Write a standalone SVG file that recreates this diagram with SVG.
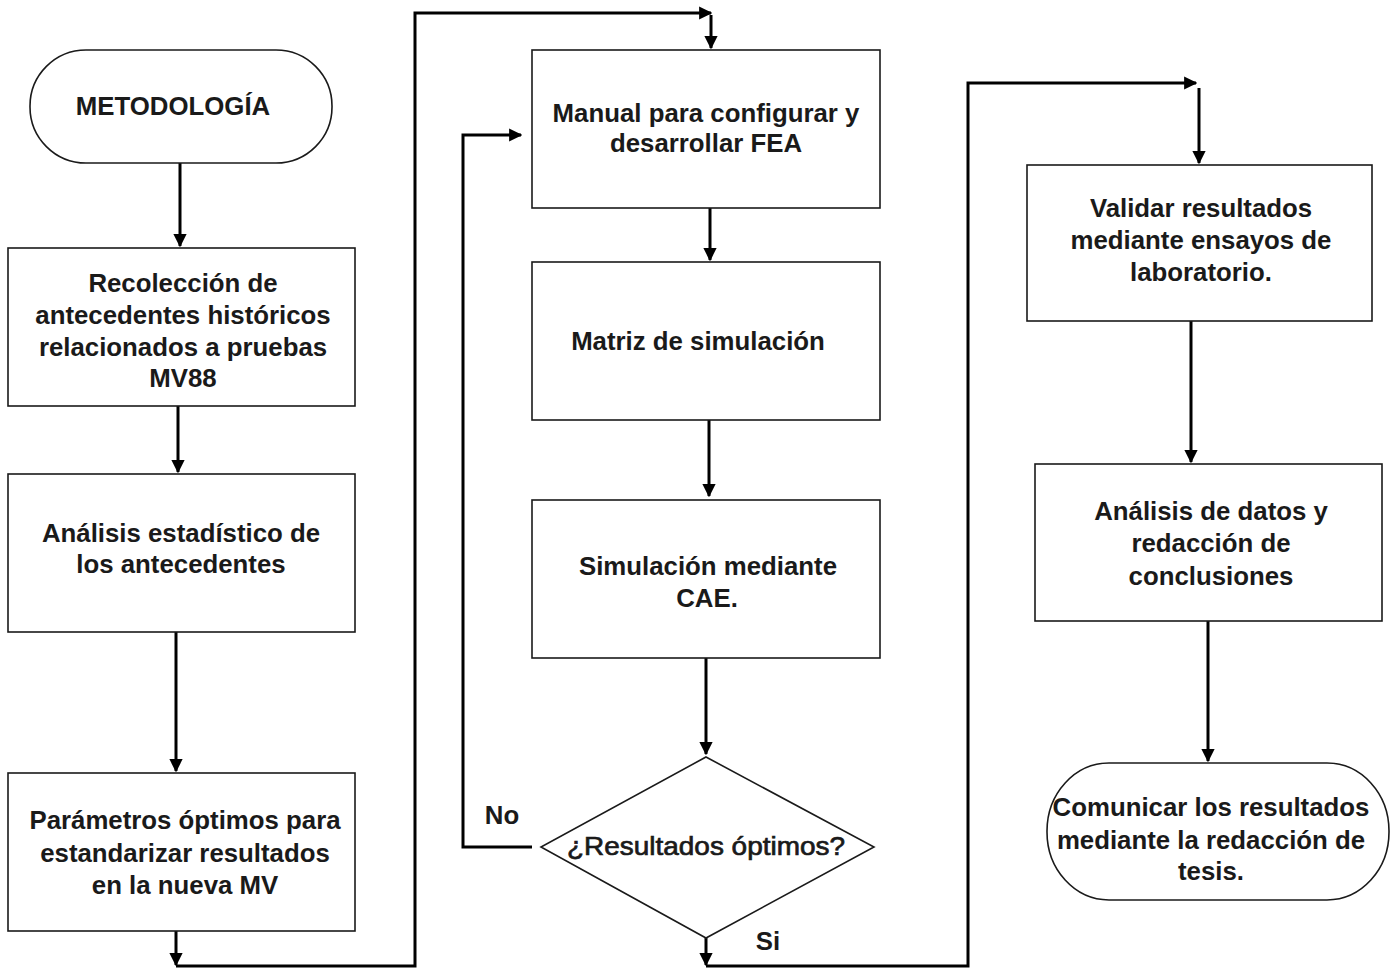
<svg xmlns="http://www.w3.org/2000/svg" width="1391" height="968" viewBox="0 0 1391 968">
<defs>
<marker id="ah" viewBox="0 0 10 10" refX="9" refY="5" markerWidth="4.4" markerHeight="4.4" markerUnits="strokeWidth" orient="auto">
<path d="M0,0 L10,5 L0,10 z" fill="#000"/>
</marker>
<style>
.n{fill:#fff;stroke:#1a1a1a;stroke-width:1.6}
.t{font-family:"Liberation Sans",Arial,sans-serif;font-size:25.8px;font-weight:bold;fill:#1a1a1a;text-anchor:middle}
.d{font-family:"Liberation Sans",Arial,sans-serif;font-size:26px;fill:#1a1a1a;stroke:#1a1a1a;stroke-width:0.7;text-anchor:middle}
.c{fill:none;stroke:#000;stroke-width:3}
</style>
</defs>
<rect width="1391" height="968" fill="#fff"/>
<g id="connectors">
<path class="c" d="M180,163 V246" marker-end="url(#ah)"/>
<path class="c" d="M178,406 V472" marker-end="url(#ah)"/>
<path class="c" d="M176,632 V771" marker-end="url(#ah)"/>
<path class="c" d="M176,931 V965" marker-end="url(#ah)"/>
<path class="c" d="M176,966 H415 V13 H711" marker-end="url(#ah)"/>
<path class="c" d="M711,15 V48" marker-end="url(#ah)"/>
<path class="c" d="M710,208 V260" marker-end="url(#ah)"/>
<path class="c" d="M709,420 V496" marker-end="url(#ah)"/>
<path class="c" d="M706,658 V754" marker-end="url(#ah)"/>
<path class="c" d="M532,847 H463 V135 H521" marker-end="url(#ah)"/>
<path class="c" d="M706,938 V965" marker-end="url(#ah)"/>
<path class="c" d="M706,966 H968 V83 H1196" marker-end="url(#ah)"/>
<path class="c" d="M1199,88 V163" marker-end="url(#ah)"/>
<path class="c" d="M1191,321 V462" marker-end="url(#ah)"/>
<path class="c" d="M1208,621 V761" marker-end="url(#ah)"/>
<text class="t" x="502" y="824">No</text>
<text class="t" x="768" y="950">Si</text>
</g>
<g id="start">
<rect class="n" x="30" y="50" width="302" height="113" rx="56" ry="56"/>
<text class="t" x="173" y="115">METODOLOGÍA</text>
</g>
<g id="recoleccion">
<rect class="n" x="8" y="248" width="347" height="158"/>
<text class="t" x="183" y="292">Recolección de</text>
<text class="t" x="183" y="324">antecedentes históricos</text>
<text class="t" x="183" y="356">relacionados a pruebas</text>
<text class="t" x="183" y="387">MV88</text>
</g>
<g id="analisis">
<rect class="n" x="8" y="474" width="347" height="158"/>
<text class="t" x="181" y="542">Análisis estadístico de</text>
<text class="t" x="181" y="573">los antecedentes</text>
</g>
<g id="parametros">
<rect class="n" x="8" y="773" width="347" height="158"/>
<text class="t" x="185" y="829">Parámetros óptimos para</text>
<text class="t" x="185" y="862">estandarizar resultados</text>
<text class="t" x="185" y="894">en la nueva MV</text>
</g>
<g id="manual">
<rect class="n" x="532" y="50" width="348" height="158"/>
<text class="t" x="706" y="122">Manual para configurar y</text>
<text class="t" x="706" y="152">desarrollar FEA</text>
</g>
<g id="matriz">
<rect class="n" x="532" y="262" width="348" height="158"/>
<text class="t" x="698" y="350">Matriz de simulación</text>
</g>
<g id="simulacion">
<rect class="n" x="532" y="500" width="348" height="158"/>
<text class="t" x="708" y="575">Simulación mediante</text>
<text class="t" x="707" y="607">CAE.</text>
</g>
<g id="decision">
<polygon class="n" points="706,757 874,847 706,938 541,847"/>
<text class="d" x="706" y="855" textLength="278" lengthAdjust="spacingAndGlyphs">¿Resultados óptimos?</text>
</g>
<g id="validar">
<rect class="n" x="1027" y="165" width="345" height="156"/>
<text class="t" x="1201" y="217">Validar resultados</text>
<text class="t" x="1201" y="249">mediante ensayos de</text>
<text class="t" x="1201" y="281">laboratorio.</text>
</g>
<g id="analisis-datos">
<rect class="n" x="1035" y="464" width="347" height="157"/>
<text class="t" x="1211" y="520">Análisis de datos y</text>
<text class="t" x="1211" y="552">redacción de</text>
<text class="t" x="1211" y="585">conclusiones</text>
</g>
<g id="comunicar">
<rect class="n" x="1047" y="763" width="342" height="137" rx="62" ry="68"/>
<text class="t" x="1211" y="816">Comunicar los resultados</text>
<text class="t" x="1211" y="849">mediante la redacción de</text>
<text class="t" x="1211" y="880">tesis.</text>
</g>
</svg>
